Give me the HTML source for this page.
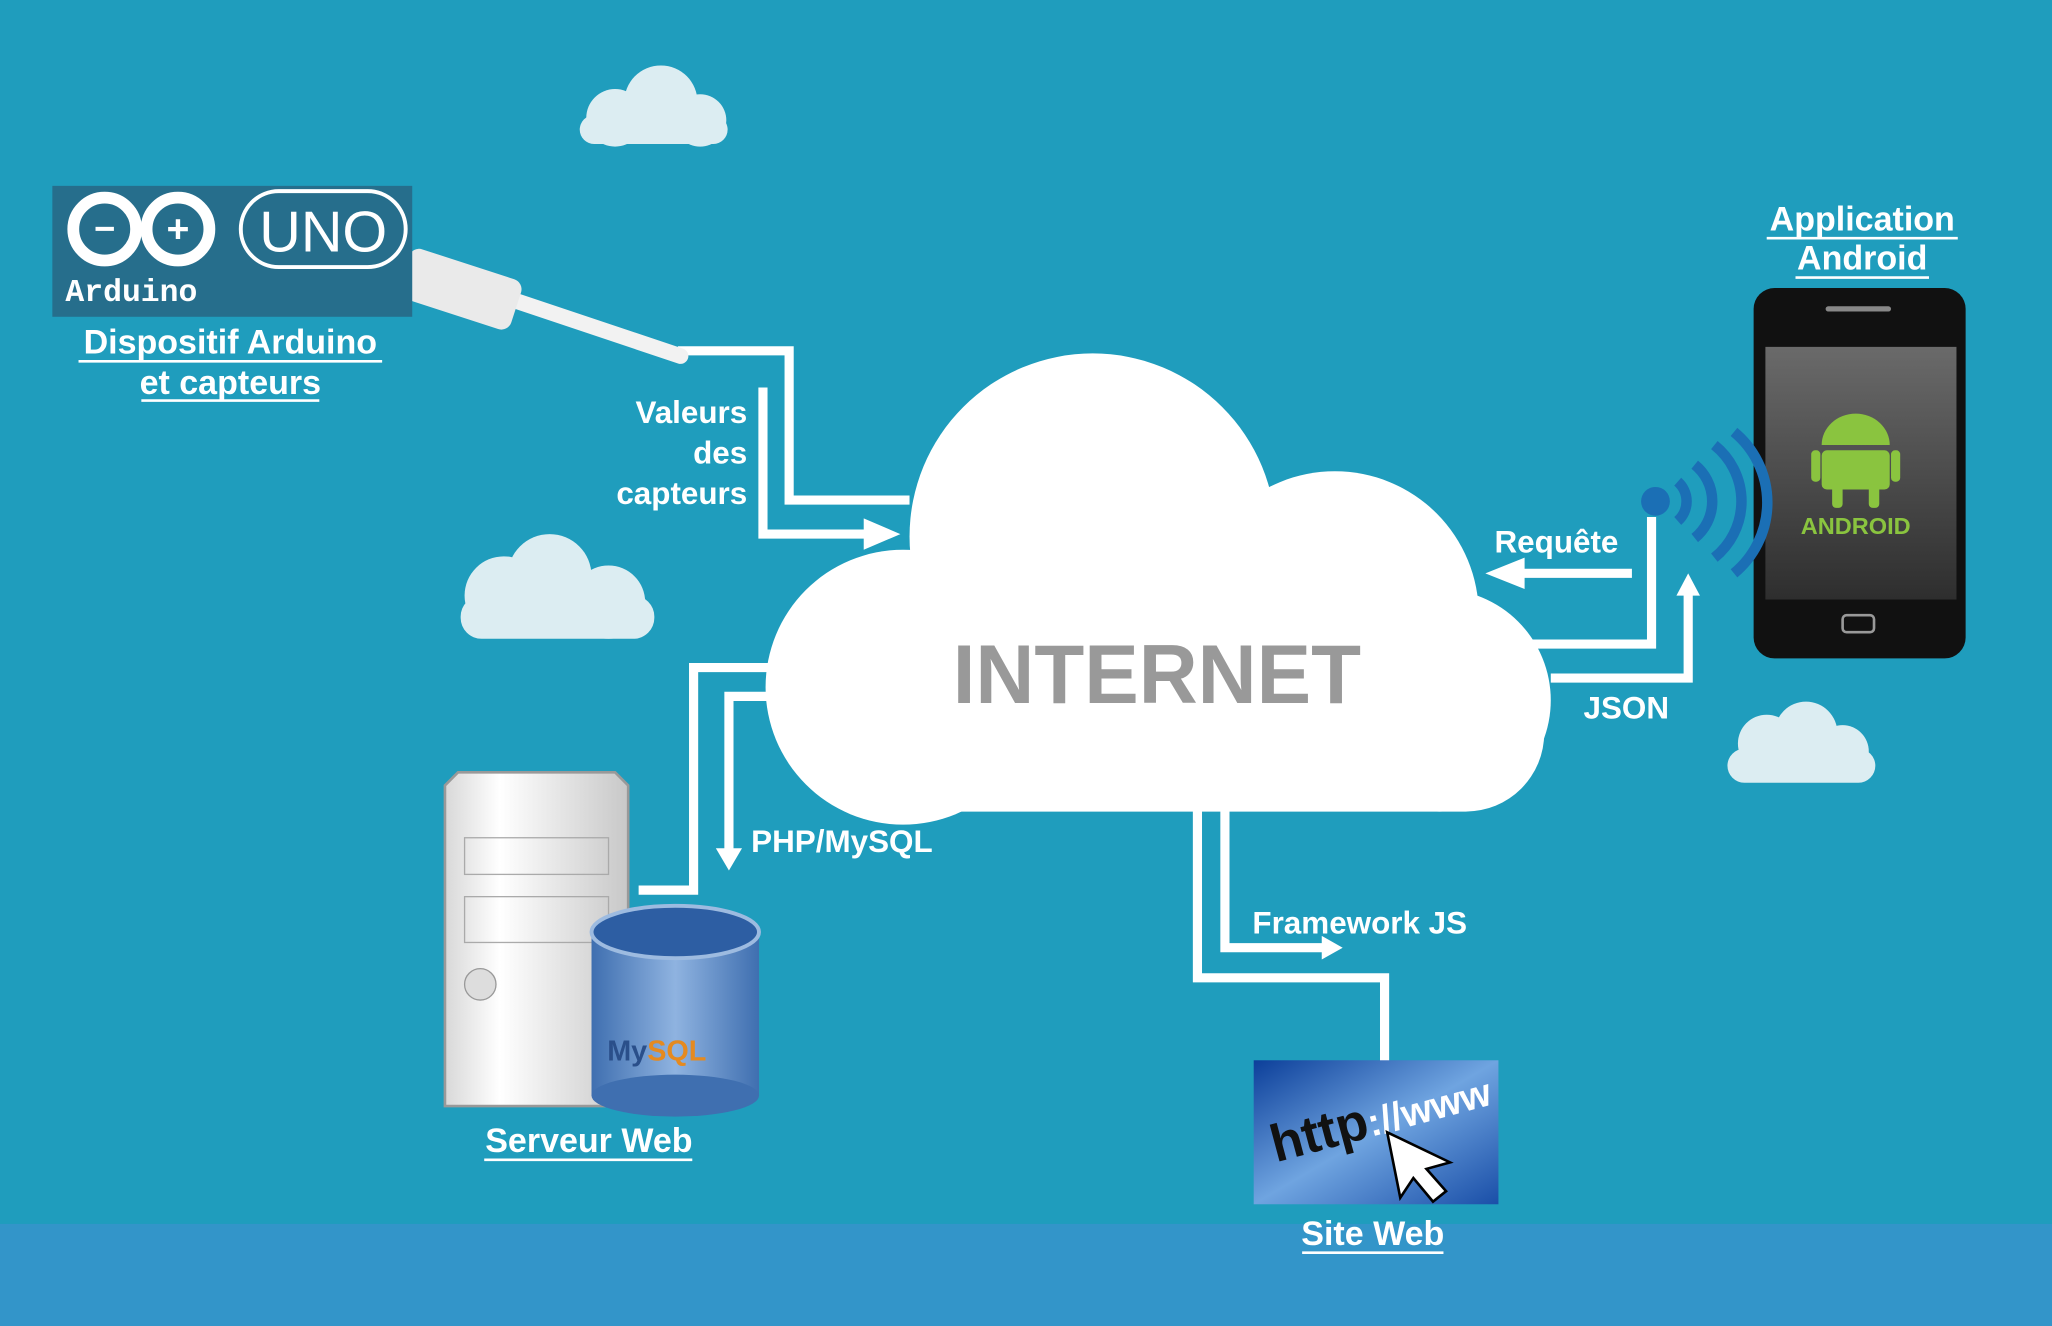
<!DOCTYPE html>
<html><head><meta charset="utf-8"><style>
html,body{margin:0;padding:0;background:#1f9dbd;}
svg{display:block}
text{font-family:"Liberation Sans",sans-serif;font-weight:bold;fill:#fff}
</style></head><body>
<svg width="2052" height="1326" viewBox="0 0 1568 1013" preserveAspectRatio="none" xmlns="http://www.w3.org/2000/svg">
<defs>
<linearGradient id="scr" x1="0" y1="0" x2="0" y2="1"><stop offset="0" stop-color="#6a6a6a"/><stop offset="1" stop-color="#2e2e2e"/></linearGradient>
<linearGradient id="db" x1="0" y1="0" x2="1" y2="0"><stop offset="0" stop-color="#3f6fb0"/><stop offset=".5" stop-color="#8fb3e0"/><stop offset="1" stop-color="#3f6fb0"/></linearGradient>
<linearGradient id="srv" x1="0" y1="0" x2="1" y2="0"><stop offset="0" stop-color="#d8d8d8"/><stop offset=".3" stop-color="#fff"/><stop offset="1" stop-color="#c8c8c8"/></linearGradient>
<linearGradient id="web" x1="0" y1="0" x2="1" y2="1"><stop offset="0" stop-color="#0c3f9a"/><stop offset=".5" stop-color="#6fa4e0"/><stop offset="1" stop-color="#1a4fa8"/></linearGradient>
</defs>
<rect x="0" y="0" width="1568" height="935" fill="#1f9dbd"/>
<rect x="0" y="935" width="1568" height="78" fill="#3395c9"/>

<g fill="#dcedf2">
<circle cx="470" cy="90" r="22"/><circle cx="505" cy="78" r="28"/><circle cx="535" cy="92" r="20"/><rect x="443" y="88" width="113" height="22" rx="11"/>
<circle cx="385" cy="455" r="30"/><circle cx="420" cy="440" r="32"/><circle cx="465" cy="460" r="28"/><rect x="352" y="455" width="148" height="33" rx="16"/>
<circle cx="1350" cy="568" r="22"/><circle cx="1380" cy="560" r="24"/><circle cx="1408" cy="574" r="20"/><rect x="1320" y="572" width="113" height="26" rx="13"/>
</g>

<g fill="none" stroke="#fff" stroke-width="7">
<polyline points="518,268 603,268 603,382 695,382"/>
<polyline points="583,296 583,408 675,408"/>
<polyline points="590,510 530,510 530,680 488,680"/>
<polyline points="590,532 557,532 557,652"/>
<polyline points="915,615 915,747 1058,747 1058,812"/>
<polyline points="936,615 936,724 1012,724"/>
<polyline points="1165,492 1262,492 1262,395"/>
<polyline points="1185,518 1290,518 1290,452"/>
<line x1="1247" y1="438" x2="1160" y2="438"/>
</g>
<g fill="#fff">
<polygon points="688,408 660,396 660,420"/>
<polygon points="557,665 547,648 567,648"/>
<polygon points="1026,724 1010,715 1010,733"/>
<polygon points="1290,438 1281,455 1299,455"/>
<polygon points="1135,438 1165,426 1165,450"/>
</g>

<line x1="320" y1="205" x2="520" y2="272" stroke="#f2f2f2" stroke-width="12" stroke-linecap="round"/>
<rect x="315" y="188" width="90" height="40" rx="8" fill="#eaeaea" transform="rotate(18 315 188)"/>

<g fill="#fff">
<circle cx="835" cy="410" r="140"/>
<circle cx="1020" cy="470" r="110"/>
<circle cx="690" cy="525" r="105"/>
<circle cx="1100" cy="535" r="85"/>
<rect x="640" y="500" width="540" height="120" rx="60"/>
</g>
<text x="728" y="537" font-size="64" textLength="312" lengthAdjust="spacingAndGlyphs" style="fill:#999">INTERNET</text>

<rect x="40" y="142" width="275" height="100" fill="#266e8c"/>
<circle cx="80" cy="175" r="24" fill="none" stroke="#fff" stroke-width="9"/>
<circle cx="136" cy="175" r="24" fill="none" stroke="#fff" stroke-width="9"/>
<text x="80" y="184" text-anchor="middle" font-size="28">−</text>
<text x="136" y="185" text-anchor="middle" font-size="30">+</text>
<rect x="184" y="146" width="126" height="58" rx="29" fill="none" stroke="#fff" stroke-width="3"/>
<text x="247" y="192" text-anchor="middle" font-size="44" style="font-weight:normal">UNO</text>
<text x="50" y="230" font-size="24" style="font-family:'Liberation Mono',monospace">Arduino</text>

<g font-size="26">
<text x="176" y="270" text-anchor="middle">Dispositif Arduino</text>
<text x="176" y="301" text-anchor="middle">et capteurs</text>
<text x="1423" y="176" text-anchor="middle">Application</text>
<text x="1423" y="206" text-anchor="middle">Android</text>
<text x="450" y="880" text-anchor="middle">Serveur Web</text>
<text x="1049" y="951" text-anchor="middle">Site Web</text>
</g>
<g stroke="#fff" stroke-width="2">
<line x1="60" y1="276" x2="292" y2="276"/><line x1="108" y1="306" x2="244" y2="306"/>
<line x1="1350" y1="182" x2="1496" y2="182"/><line x1="1372" y1="212" x2="1474" y2="212"/>
<line x1="370" y1="886" x2="529" y2="886"/><line x1="995" y1="957" x2="1103" y2="957"/>
</g>
<g font-size="24">
<text x="571" y="323" text-anchor="end">Valeurs</text>
<text x="571" y="354" text-anchor="end">des</text>
<text x="571" y="385" text-anchor="end">capteurs</text>
<text x="574" y="651">PHP/MySQL</text>
<text x="957" y="713">Framework JS</text>
<text x="1142" y="422">Requête</text>
<text x="1210" y="549">JSON</text>
</g>

<path d="M350,590 L470,590 L480,600 L480,845 L340,845 L340,600 Z" fill="url(#srv)" stroke="#999" stroke-width="2"/>
<rect x="355" y="640" width="110" height="28" fill="none" stroke="#aaa"/>
<rect x="355" y="685" width="110" height="35" fill="none" stroke="#aaa"/>
<circle cx="367" cy="752" r="12" fill="#ddd" stroke="#999"/>
<rect x="452" y="712" width="128" height="125" fill="url(#db)"/>
<ellipse cx="516" cy="837" rx="64" ry="16" fill="#3f6fb0"/>
<ellipse cx="516" cy="712" rx="64" ry="20" fill="#2d5ea3" stroke="#9dbbe0" stroke-width="3"/>
<text x="464" y="810" font-size="22" style="fill:#2a4f8a">My<tspan style="fill:#e58a1f">SQL</tspan></text>

<rect x="1340" y="220" width="162" height="283" rx="16" fill="#111"/>
<rect x="1395" y="234" width="50" height="4" rx="2" fill="#888"/>
<rect x="1349" y="265" width="146" height="193" fill="url(#scr)"/>
<g fill="#8ac43f">
<path d="M1392,340 a26,24 0 0 1 52,0 Z"/>
<rect x="1392" y="344" width="52" height="30" rx="4"/>
<rect x="1384" y="344" width="7" height="24" rx="3"/><rect x="1445" y="344" width="7" height="24" rx="3"/>
<rect x="1400" y="370" width="8" height="18" rx="3"/><rect x="1428" y="370" width="8" height="18" rx="3"/>
</g>
<text x="1418" y="408" text-anchor="middle" font-size="18" style="fill:#8ac43f">ANDROID</text>
<rect x="1408" y="470" width="24" height="13" rx="3" fill="none" stroke="#999" stroke-width="2"/>
<circle cx="1265" cy="383" r="11" fill="#1b6fb5"/>
<g fill="none" stroke="#1b6fb5" stroke-width="8">
<path d="M1282,368 a20,20 0 0 1 0,30"/>
<path d="M1295,355 a36,36 0 0 1 0,56"/>
<path d="M1310,340 a55,55 0 0 1 0,86"/>
<path d="M1325,330 a70,70 0 0 1 0,108"/>
</g>

<rect x="958" y="810" width="187" height="110" fill="url(#web)"/>
<text x="975" y="888" font-size="40" transform="rotate(-15 975 888)" style="fill:#111">http<tspan style="fill:#fff;font-size:30">://www</tspan></text>
<path d="M1060,865 L1070,915 L1080,900 L1095,918 L1105,910 L1090,893 L1108,888 Z" fill="#fff" stroke="#000" stroke-width="2"/>
</svg>
</body></html>
